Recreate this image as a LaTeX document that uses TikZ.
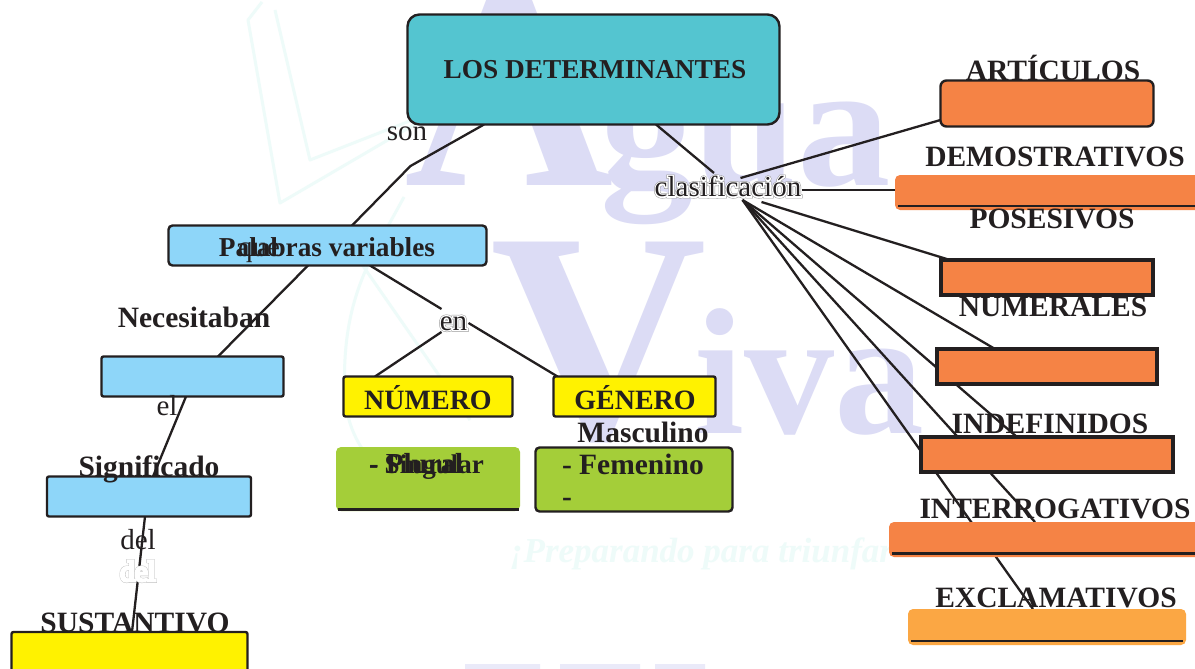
\documentclass[tikz,border=0pt]{standalone}
\usepackage{fontspec}
\setmainfont{Liberation Serif}
\pgfdeclarelayer{wm}
\pgfdeclarelayer{edges}
\pgfsetlayers{wm,edges,main}
\definecolor{ink}{HTML}{231F20}
\definecolor{teal}{HTML}{54C5D0}
\definecolor{sky}{HTML}{8ED6F9}
\definecolor{yel}{HTML}{FFF200}
\definecolor{grn}{HTML}{A4CE39}
\definecolor{org}{HTML}{F58345}
\definecolor{org2}{HTML}{FBA744}
\definecolor{lav}{HTML}{DCDCF5}
\definecolor{cyn}{HTML}{EEFBF9}
\newcommand{\fsz}[1]{\fontsize{#1}{#1}\selectfont}
\newcommand{\halo}[1]{\leavevmode\rlap{\special{pdf:code 1 Tr 3.6 w 0.6 G}#1\special{pdf:code 0 Tr 0 G}}\rlap{\special{pdf:code 1 Tr 2.6 w 1 G}#1\special{pdf:code 0 Tr 0 G}}#1}
\newcommand{\ghost}[1]{\leavevmode\rlap{\special{pdf:code 1 Tr 3.6 w 0.75 G}#1\special{pdf:code 0 Tr 0 G}}\special{pdf:code 2 Tr 2.8 w 1 G 1 g}#1\special{pdf:code 0 Tr 0 G 0 g}}
\tikzset{
  box/.style={draw=ink,line width=2.4pt,rounded corners=4pt,inner sep=0pt,outer sep=0pt},
  thick box/.style={draw=ink,line width=4.5pt,sharp corners,inner sep=0pt,outer sep=0pt,fill=org},
  flat box/.style={inner sep=0pt,outer sep=0pt,rounded corners=5pt},
  link/.style={draw=ink,line width=2.3pt},
  under/.style={draw=ink,line width=2.4pt},
  bt/.style={inner sep=0pt,outer sep=0pt,anchor=base,text=ink,font=\fsz{29.5}\bfseries},
  rt/.style={inner sep=0pt,outer sep=0pt,anchor=base,text=ink,font=\fsz{29}},
  wmark/.style={inner sep=0pt,outer sep=0pt,anchor=base west,text=lav,font=\bfseries},
  streak/.style={draw=cyn,line width=3pt,line join=round}
}
\begin{document}
\begin{tikzpicture}[x=1pt,y=-1pt]
\useasboundingbox (0,0) rectangle (1195,669);
\clip (0,0) rectangle (1195,669);
\begin{pgfonlayer}{wm}
  \fill[white] (0,0) rectangle (1195,669);
  \draw[streak] (262,2) -- (248,20) -- (280,203) -- (417,123) -- (440,100);
  \draw[streak] (275,10) -- (310,160) -- (425,115);
  \draw[streak] (404,197) .. controls (370,260) and (340,300) .. (345,400) .. controls (350,440) and (370,470) .. (420,500);
  \draw[streak] (345,240) -- (470,420);
  \node[wmark,font=\fsz{290}\bfseries] (wmA) at (404,185) {A};
  \node[wmark,font=\fsz{178}\bfseries,xscale=1.05] (wmgua) at (600,185) {gua};
  \node[wmark,font=\fsz{300}\bfseries] (wmV) at (490,438) {V};
  \node[wmark,font=\fsz{180}\bfseries] (wmiva) at (694,433) {iva};
  \node[wmark,text=cyn,font=\fsz{35}\bfseries\itshape] (wmtag) at (510,562) {¡Preparando para triunfar};
  \fill[lav!60] (465,664) rectangle (540,669) (560,664) rectangle (640,669) (655,664) rectangle (705,669);
\end{pgfonlayer}

% boxes
\node[box,fill=teal,rounded corners=12pt,minimum width=372pt,minimum height=110pt] (los) at (593.5,69.5) {};
\node[box,fill=sky,minimum width=318pt,minimum height=40pt] (pal) at (327.5,245.5) {};
\node[box,fill=sky,rounded corners=2pt,minimum width=182pt,minimum height=40pt] (nec) at (192.5,376.5) {};
\node[box,fill=sky,rounded corners=2pt,minimum width=204pt,minimum height=40pt] (sig) at (149,496.5) {};
\node[box,fill=yel,rounded corners=2pt,minimum width=236pt,minimum height=60pt] (sus) at (129.5,662) {};
\node[box,fill=yel,rounded corners=2pt,minimum width=169pt,minimum height=40pt] (num) at (428,396.5) {};
\node[box,fill=yel,rounded corners=2pt,minimum width=162pt,minimum height=40pt] (gen) at (634.5,396.5) {};
\node[flat box,fill=grn,minimum width=184pt,minimum height=64pt] (sing) at (428,479) {};
\node[box,fill=grn,minimum width=197pt,minimum height=64pt] (fem) at (634,479.5) {};
\node[box,fill=org,rounded corners=6pt,minimum width=213pt,minimum height=46pt] (art) at (1047,103.5) {};
\node[flat box,fill=org,minimum width=310pt,minimum height=35pt] (dem) at (1050,192.5) {};
\node[thick box,minimum width=212pt,minimum height=35pt] (pos) at (1047,277.5) {};
\node[thick box,minimum width=220pt,minimum height=35pt] (nume) at (1047,366.5) {};
\node[thick box,minimum width=252pt,minimum height=35pt] (ind) at (1047,454.5) {};
\node[flat box,fill=org,minimum width=316pt,minimum height=35pt] (int) at (1047,539.5) {};
\node[flat box,fill=org2,minimum width=278pt,minimum height=36pt] (exc) at (1047,627) {};

% labels used as joints
\node[inner sep=0pt,outer sep=0pt,minimum width=146pt,minimum height=28pt] (clas) at (728.5,187) {};
\node[rt] (tclas) at (728,196.5) {\halo{clasificación}};
\node[inner sep=0pt,outer sep=0pt,minimum width=32pt,minimum height=24pt] (en) at (453.5,320) {};
\node[rt] (ten) at (453.5,330) {\halo{en}};

\begin{pgfonlayer}{edges}
  \draw[link] ([xshift=-109.5pt]los.south) -- (410.5,166) -- ([xshift=24.5pt]pal.north);
  \draw[link] ([xshift=62.5pt]los.south) -- ([xshift=-14.5pt]clas.north);
  \draw[link] ([xshift=-19.5pt]pal.south) -- ([xshift=25.5pt]nec.north);
  \draw[link] ([xshift=-6.5pt]nec.south) -- ([xshift=4pt]sig.north);
  \draw[link] ([xshift=-4pt]sig.south) -- ([xshift=2.5pt]sus.north);
  \draw[link] ([xshift=42.5pt]pal.south) -- ([xshift=-12pt,yshift=-1pt]en.north);
  \draw[link] ([xshift=-12pt]en.south) -- ([xshift=-53pt]num.north);
  \draw[link] ([xshift=-1pt,yshift=-3pt]en.east) -- ([xshift=-77pt]gen.north);
  \draw[link] ([xshift=12pt,yshift=-5pt]clas.north) -- ([yshift=-16.5pt]art.west);
  \draw[link] ([yshift=-3pt]clas.east) -- ([yshift=2.5pt]dem.west);
  \draw[link] ([xshift=33pt,yshift=-1pt]clas.south) -- ([xshift=-97pt]pos.north);
  \draw[link] ([xshift=14pt,yshift=1pt]clas.south) -- ([xshift=-52pt]nume.north);
  \draw[link] ([xshift=14pt,yshift=1pt]clas.south) -- ([xshift=-30pt]ind.north);
  \draw[link] ([xshift=14pt,yshift=1pt]clas.south) -- ([xshift=-12pt]int.north);
  \draw[link] ([xshift=14pt,yshift=1pt]clas.south) -- ([xshift=-14pt]exc.north);
\end{pgfonlayer}

% rules along the lower edge of the borderless boxes
\draw[under] ([xshift=2pt,yshift=1.5pt]sing.south west) -- ([xshift=-1pt,yshift=1.5pt]sing.south east);
\draw[under] ([xshift=3pt,yshift=4pt]dem.south west) -- ([yshift=4pt]dem.south east);
\draw[under] ([xshift=3pt,yshift=3.5pt]int.south west) -- ([yshift=3.5pt]int.south east);
\draw[under] ([xshift=3pt,yshift=4pt]exc.south west) -- ([xshift=-3pt,yshift=4pt]exc.south east);

% texts
\node[bt,font=\fsz{27.3}\bfseries] (tlos) at (595,78.5) {LOS DETERMINANTES};
\node[rt] (tson) at (407,140) {son};
\node[bt,font=\fsz{27.3}\bfseries] (tpal) at (327,256) {Palabras variables};
\node[rt] (tque) at (259,256) {que};
\node[bt] (tnec) at (194,327) {Necesitaban};
\node[rt] (tel) at (167,415) {el};
\node[bt] (tsig) at (149,476.5) {Significado};
\node[rt] (tdel) at (138,549.5) {del};
\node[rt] (tghost) at (138,581) {\ghost{del}};
\node[bt] (tsus) at (135,632) {SUSTANTIVO};
\node[bt,font=\fsz{28}\bfseries] (tnum) at (428,409) {NÚMERO};
\node[bt,font=\fsz{28}\bfseries] (tgen) at (635,409) {GÉNERO};
\node[bt] (tmas) at (643,442.5) {Masculino};
\node[bt,font=\fsz{27}\bfseries,anchor=base west] (tsing) at (369,473) {- Singular};
\node[bt,font=\fsz{29}\bfseries,anchor=base west] (tplu) at (369,473) {- Plural};
\node[bt,anchor=base west] (tfem) at (562,474.5) {- Femenino};
\node[bt,anchor=base west] (tdash) at (562,506) {-};
\node[bt] (tart) at (1053,81) {ARTÍCULOS};
\node[bt] (tdem) at (1055,166) {DEMOSTRATIVOS};
\node[bt] (tpos) at (1052,228) {POSESIVOS};
\node[bt] (tnume) at (1053,316) {NUMERALES};
\node[bt] (tind) at (1050,433) {INDEFINIDOS};
\node[bt] (tint) at (1055,518) {INTERROGATIVOS};
\node[bt] (texc) at (1056,607) {EXCLAMATIVOS};
\end{tikzpicture}
\end{document}
